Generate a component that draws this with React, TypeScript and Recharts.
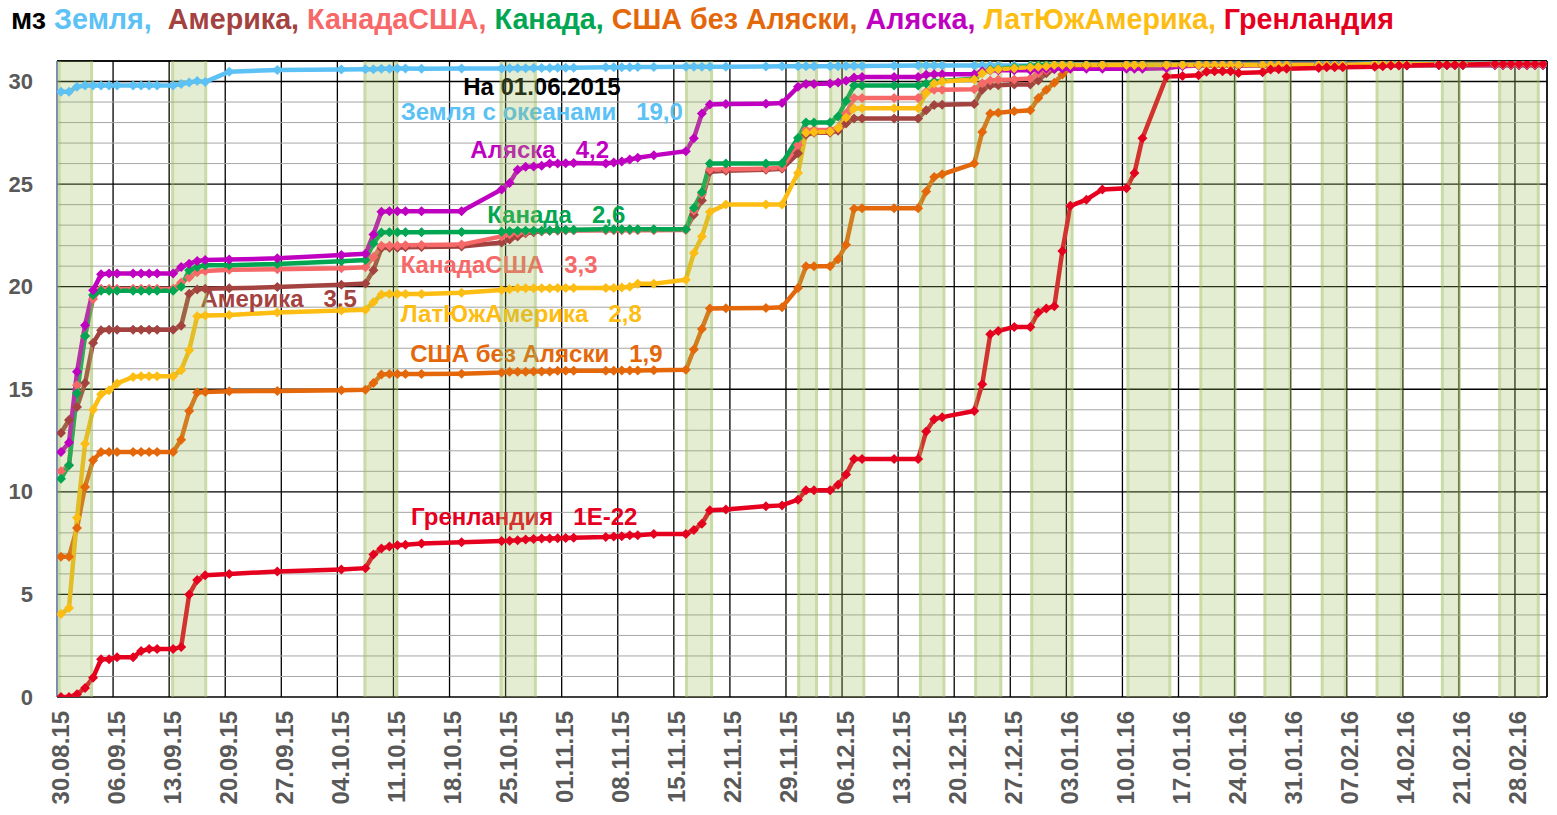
import React from "react";
import {
  LineChart,
  Line,
  XAxis,
  YAxis,
  CartesianGrid,
  ReferenceArea,
  ReferenceLine,
  ReferenceDot,
} from "recharts";

// day 0 = 30.08.2015
const START = Date.UTC(2015, 7, 30);

const days = [
  0, 1, 2, 3, 4, 5, 6, 7, 9, 10, 11, 12, 14, 15, 16, 17, 18, 21, 27,
  35, 38, 39, 40, 41, 42, 43, 45, 50,
  55, 56, 57, 58, 59, 60, 61, 62, 63, 64,
  68, 69, 70, 71, 72, 74,
  78, 79, 80, 81, 83, 88, 90,
  92, 93, 94, 96, 97, 98, 99, 100, 104,
  107, 108, 109, 110, 114, 115, 116, 117, 119,
  121, 122, 123, 124, 125, 126, 128, 130,
  133, 134, 135, 138, 140,
  142, 143, 144, 145, 146, 147,
  150, 151, 152, 153,
  157, 158, 159, 160,
  164, 165, 166, 167, 168,
  172, 173, 174, 175,
  179, 180, 181, 182, 183, 184, 185,
];

const zemlya = [
  29.5, 29.5, 29.75, 29.8, 29.8, 29.8, 29.8, 29.8, 29.8, 29.8, 29.8, 29.8, 29.8, 29.88, 29.95, 30.02, 29.98, 30.48, 30.56,
  30.58, 30.6, 30.6, 30.62, 30.62, 30.63, 30.63, 30.62, 30.63,
  30.64, 30.65, 30.65, 30.65, 30.66, 30.66, 30.66, 30.67, 30.67, 30.67,
  30.7, 30.7, 30.7, 30.7, 30.71, 30.71,
  30.72, 30.72, 30.72, 30.72, 30.72, 30.73, 30.74,
  30.74, 30.75, 30.75, 30.75, 30.75, 30.76, 30.76, 30.76, 30.77,
  30.78, 30.78, 30.78, 30.78, 30.78, 30.78, 30.78, 30.78, 30.78,
  30.78, 30.79, 30.8, 30.82, 30.83, 30.83, 30.83, 30.84,
  30.84, 30.84, 30.84, 30.84, 30.84,
  30.85, 30.85, 30.85, 30.85, 30.85, 30.85,
  30.86, 30.86, 30.86, 30.86,
  30.87, 30.87, 30.87, 30.87,
  30.88, 30.88, 30.88, 30.88, 30.88,
  30.88, 30.88, 30.88, 30.88,
  30.89, 30.89, 30.89, 30.89, 30.89, 30.89, 30.89,
];

const amerika = [
  12.87, 13.5, 14.14, 15.3, 17.25, 17.88, 17.9, 17.9, 17.9, 17.9, 17.9, 17.9, 17.9, 18.1, 19.66, 19.86, 19.9, 19.92, 19.98,
  20.1, 20.15, 20.8, 21.88, 21.9, 21.9, 21.92, 21.93, 21.96,
  22.15, 22.3, 22.45, 22.6, 22.65, 22.7, 22.72, 22.74, 22.75, 22.75,
  22.76, 22.76, 22.77, 22.77, 22.78, 22.78,
  22.8, 23.5, 24.2, 25.6, 25.65, 25.7, 25.75,
  26.5, 27.4, 27.5, 27.5, 27.6, 27.95, 28.2, 28.2, 28.2,
  28.2, 28.6, 28.85, 28.87, 28.9, 29.6, 29.8, 29.82, 29.85,
  29.85, 30.05, 30.4, 30.6, 30.7, 30.75, 30.8, 30.8,
  30.8, 30.8, 30.8, 30.8, 30.8,
  30.8, 30.8, 30.8, 30.8, 30.8, 30.8,
  30.8, 30.8, 30.8, 30.8,
  30.8, 30.8, 30.8, 30.8,
  30.8, 30.8, 30.8, 30.8, 30.8,
  30.8, 30.8, 30.8, 30.8,
  30.8, 30.8, 30.8, 30.8, 30.8, 30.8, 30.8,
];

const kanadaSsha = [
  11.0, 11.3, 15.2, 17.6, 19.4, 19.9, 19.9, 19.9, 19.9, 19.9, 19.9, 19.9, 19.9, 20.2, 20.45, 20.7, 20.77, 20.82, 20.85,
  20.9, 20.95, 21.45, 22.0, 22.0, 22.0, 22.02, 22.03, 22.05,
  22.45, 22.55, 22.6, 22.65, 22.7, 22.7, 22.72, 22.74, 22.75, 22.75,
  22.75, 22.75, 22.75, 22.75, 22.75, 22.75,
  22.76, 23.7, 24.5, 25.7, 25.72, 25.75, 25.8,
  26.9, 27.64, 27.64, 27.64, 27.74, 28.44, 29.2, 29.2, 29.2,
  29.2, 29.5, 29.6, 29.6, 29.62, 29.92, 30.05, 30.08, 30.1,
  30.15, 30.4, 30.55, 30.7, 30.8, 30.8, 30.8, 30.8,
  30.8, 30.8, 30.8, 30.8, 30.8,
  30.8, 30.8, 30.8, 30.8, 30.8, 30.8,
  30.8, 30.8, 30.8, 30.8,
  30.8, 30.8, 30.8, 30.8,
  30.8, 30.8, 30.8, 30.8, 30.8,
  30.8, 30.8, 30.8, 30.8,
  30.8, 30.8, 30.8, 30.8, 30.8, 30.8, 30.8,
];

const kanada = [
  10.64, 11.3, 14.8, 17.6, 19.6, 19.8, 19.8, 19.8, 19.8, 19.8, 19.8, 19.8, 19.8, 20.0, 20.8, 20.96, 21.05, 21.05, 21.1,
  21.24, 21.3, 22.1, 22.64, 22.65, 22.65, 22.65, 22.65, 22.66,
  22.68, 22.7, 22.72, 22.72, 22.72, 22.72, 22.74, 22.76, 22.78, 22.78,
  22.8, 22.8, 22.8, 22.8, 22.8, 22.8,
  22.8, 23.84, 24.6, 26.0, 26.0, 26.0, 26.02,
  27.25, 28.0, 28.0, 28.0, 28.3, 29.05, 29.8, 29.8, 29.8,
  29.8, 29.9, 30.0, 30.02, 30.14, 30.45, 30.58, 30.62, 30.7,
  30.75, 30.8, 30.8, 30.8, 30.8, 30.8, 30.8, 30.8,
  30.8, 30.8, 30.8, 30.8, 30.8,
  30.8, 30.8, 30.8, 30.8, 30.8, 30.8,
  30.8, 30.8, 30.8, 30.8,
  30.8, 30.8, 30.8, 30.8,
  30.8, 30.8, 30.8, 30.8, 30.8,
  30.8, 30.8, 30.8, 30.8,
  30.8, 30.8, 30.8, 30.8, 30.8, 30.8, 30.8,
];

const sshaBezAlyaski = [
  6.84, 6.84, 8.24, 10.24, 11.54, 11.94, 11.94, 11.94, 11.94, 11.94, 11.94, 11.94, 11.94, 12.54, 13.94, 14.84, 14.87, 14.9, 14.92,
  14.95, 14.97, 15.3, 15.72, 15.74, 15.74, 15.74, 15.74, 15.76,
  15.82, 15.85, 15.85, 15.85, 15.86, 15.86, 15.87, 15.9, 15.9, 15.9,
  15.9, 15.9, 15.91, 15.92, 15.92, 15.93,
  15.95, 16.94, 17.94, 18.94, 18.95, 18.96, 19.0,
  19.94, 21.0, 21.0, 21.0, 21.34, 22.04, 23.8, 23.82, 23.82,
  23.82, 24.64, 25.34, 25.48, 26.0, 27.54, 28.44, 28.48, 28.55,
  28.6, 29.2, 29.6, 29.94, 30.34, 30.64, 30.75, 30.8,
  30.8, 30.8, 30.8, 30.8, 30.8,
  30.8, 30.8, 30.8, 30.8, 30.8, 30.8,
  30.8, 30.8, 30.8, 30.8,
  30.8, 30.8, 30.8, 30.8,
  30.8, 30.8, 30.8, 30.8, 30.8,
  30.8, 30.8, 30.8, 30.8,
  30.8, 30.8, 30.8, 30.8, 30.8, 30.8, 30.8,
];

const alyaska = [
  11.94, 12.4, 15.85, 18.12, 19.82, 20.6, 20.64, 20.64, 20.64, 20.64, 20.64, 20.64, 20.64, 20.96, 21.12, 21.25, 21.3, 21.32, 21.38,
  21.54, 21.6, 22.54, 23.65, 23.68, 23.68, 23.68, 23.68, 23.68,
  24.74, 25.05, 25.7, 25.84, 25.86, 25.9, 26.0, 26.0, 26.02, 26.03,
  26.0, 26.05, 26.1, 26.2, 26.28, 26.4,
  26.6, 27.24, 28.44, 28.88, 28.9, 28.92, 28.95,
  29.74, 29.88, 29.88, 29.9, 29.95, 30.04, 30.2, 30.22, 30.22,
  30.22, 30.33, 30.35, 30.35, 30.35, 30.5, 30.54, 30.55, 30.55,
  30.55, 30.58, 30.62, 30.62, 30.62, 30.62, 30.62, 30.62,
  30.62, 30.62, 30.62, 30.65, 30.75,
  30.78, 30.8, 30.8, 30.8, 30.8, 30.78,
  30.8, 30.8, 30.8, 30.8,
  30.8, 30.8, 30.8, 30.8,
  30.8, 30.8, 30.8, 30.8, 30.8,
  30.8, 30.8, 30.8, 30.8,
  30.8, 30.8, 30.8, 30.8, 30.8, 30.8, 30.8,
];

const latYuzhAmerika = [
  4.04, 4.34, 8.74, 12.34, 14.0, 14.76, 14.95, 15.28, 15.6, 15.64, 15.64, 15.64, 15.64, 15.93, 16.9, 18.56, 18.6, 18.62, 18.74,
  18.84, 18.88, 19.24, 19.62, 19.64, 19.64, 19.64, 19.64, 19.7,
  19.84, 19.88, 19.92, 19.92, 19.92, 19.92, 19.92, 19.94, 19.94, 19.94,
  19.94, 19.94, 19.96, 20.0, 20.14, 20.14,
  20.34, 21.64, 22.44, 23.64, 24.0, 24.0, 24.0,
  25.54, 27.5, 27.54, 27.55, 27.74, 28.24, 28.68, 28.7, 28.7,
  28.7, 29.44, 29.9, 30.0, 30.1, 30.4, 30.55, 30.6, 30.65,
  30.7, 30.72, 30.75, 30.8, 30.8, 30.8, 30.8, 30.8,
  30.8, 30.8, 30.8, 30.8, 30.8,
  30.8, 30.8, 30.8, 30.8, 30.8, 30.8,
  30.8, 30.8, 30.8, 30.8,
  30.8, 30.8, 30.8, 30.8,
  30.85, 30.85, 30.85, 30.85, 30.85,
  30.85, 30.85, 30.85, 30.85,
  30.85, 30.85, 30.85, 30.85, 30.85, 30.85, 30.85,
];

const grenlandiya = [
  0, 0, 0.14, 0.44, 0.94, 1.84, 1.84, 1.94, 1.94, 2.24, 2.34, 2.34, 2.34, 2.44, 5.0, 5.7, 5.94, 6.0, 6.12,
  6.22, 6.28, 6.94, 7.24, 7.34, 7.4, 7.42, 7.48, 7.54,
  7.6, 7.62, 7.64, 7.68, 7.7, 7.72, 7.72, 7.74, 7.75, 7.76,
  7.8, 7.82, 7.84, 7.88, 7.89, 7.94,
  7.95, 8.14, 8.44, 9.1, 9.14, 9.3, 9.34,
  9.62, 10.08, 10.08, 10.08, 10.34, 10.84, 11.6, 11.6, 11.6,
  11.6, 12.94, 13.54, 13.64, 13.94, 15.24, 17.68, 17.84, 18.04,
  18.04, 18.74, 18.94, 19.04, 21.74, 23.94, 24.24, 24.74,
  24.8, 25.54, 27.24, 30.24, 30.27,
  30.3, 30.48, 30.5, 30.5, 30.5, 30.42,
  30.45, 30.58, 30.6, 30.62,
  30.66, 30.7, 30.7, 30.7,
  30.72, 30.75, 30.78, 30.78, 30.78,
  30.82, 30.82, 30.82, 30.82,
  30.86, 30.86, 30.86, 30.86, 30.86, 30.86, 30.86,
];

// shaded periods, in days from 30.08.15
const bandFrom = [0.1, 14.25, 38.25, 55.25, 78.4, 92.4, 96.4, 107.6, 114.5, 121.5, 133.5, 142.6, 150.6, 157.75, 164.6, 172.75, 179.9];
const bandTo = [4.5, 18.75, 42.6, 59.9, 81.9, 95, 100.9, 110.9, 118, 126.9, 139.1, 147.25, 154.1, 161, 168, 175.25, 185.1];

const xTicks = [0, 7, 14, 21, 28, 35, 42, 49, 56, 63, 70, 77, 84, 91, 98, 105, 112, 119, 126, 133, 140, 147, 154, 161, 168, 175, 182];
const yTicks = [0, 5, 10, 15, 20, 25, 30];
const yMinor = [1, 2, 3, 4, 6, 7, 8, 9, 11, 12, 13, 14, 16, 17, 18, 19, 21, 22, 23, 24, 26, 27, 28, 29];

const series = [
  { key: "zemlya", name: "Земля", color: "#5cc1f5", values: zemlya },
  { key: "amerika", name: "Америка", color: "#a3423f", values: amerika },
  { key: "kanadaSsha", name: "КанадаСША", color: "#f76868", values: kanadaSsha },
  { key: "kanada", name: "Канада", color: "#00a651", values: kanada },
  { key: "ssha", name: "США без Аляски", color: "#e4670a", values: sshaBezAlyaski },
  { key: "alyaska", name: "Аляска", color: "#c000c0", values: alyaska },
  { key: "latam", name: "ЛатЮжАмерика", color: "#fdbd12", values: latYuzhAmerika },
  { key: "grenl", name: "Гренландия", color: "#e6001f", values: grenlandiya },
];

// annotation texts: [text, colour, day, value]
const notes: [string, string, number, number][] = [
  ["На 01.06.2015", "#000000", 50.7, 29.78],
  ["Земля с океанами\u00a0\u00a0\u00a019,0", "#5cc1f5", 42.9, 28.52],
  ["Аляска\u00a0\u00a0\u00a04,2", "#c000c0", 51.6, 26.7],
  ["Канада\u00a0\u00a0\u00a02,6", "#00a651", 53.7, 23.53],
  ["КанадаСША\u00a0\u00a0\u00a03,3", "#f76868", 42.9, 21.1],
  ["Америка\u00a0\u00a0\u00a03,5", "#a3423f", 17.9, 19.4],
  ["ЛатЮжАмерика\u00a0\u00a0\u00a02,8", "#fdbd12", 42.9, 18.7],
  ["США без Аляски\u00a0\u00a0\u00a01,9", "#e4670a", 44.1, 16.72],
  ["Гренландия\u00a0\u00a0\u00a01E-22", "#e6001f", 44.2, 8.82],
];

const data = days.map((d, i) => {
  const row: Record<string, number> = { x: d + 0.5 };
  series.forEach((s) => {
    row[s.key] = s.values[i];
  });
  return row;
});

const FONT = "Arial, 'Liberation Sans', sans-serif";

function fmtDate(v: number) {
  const dt = new Date(START + v * 86400000);
  const dd = String(dt.getUTCDate()).padStart(2, "0");
  const mm = String(dt.getUTCMonth() + 1).padStart(2, "0");
  const yy = String(dt.getUTCFullYear()).slice(2);
  return `${dd}.${mm}.${yy}`;
}

const XTick = (props: any) => {
  const { x, y, payload } = props;
  return (
    <text
      transform={`translate(${x + 3},${y + 14}) rotate(-90)`}
      textAnchor="end"
      dominantBaseline="central"
      fill="#595959"
      fontSize={24}
      fontWeight="bold"
      fontFamily={FONT}
    >
      {fmtDate(payload.value)}
    </text>
  );
};

const YTick = (props: any) => {
  const { x, y, payload } = props;
  return (
    <text x={x - 24} y={y} textAnchor="end" dominantBaseline="central" fill="#595959" fontSize={22} fontWeight="bold" fontFamily={FONT}>
      {payload.value}
    </text>
  );
};

const makeDiamond = (color: string) => (props: any) => {
  const { cx, cy, index } = props;
  if (cx == null || cy == null) return <g key={index} />;
  const r = 5;
  return <path key={index} d={`M${cx},${cy - r}L${cx + r},${cy}L${cx},${cy + r}L${cx - r},${cy}Z`} fill={color} />;
};

const Band = (props: any) => {
  const { x, y, width, height } = props;
  return (
    <g>
      <rect x={x} y={y} width={width} height={height} fill="#9bbb59" fillOpacity={0.27} />
      <rect x={x} y={y} width={3} height={height} fill="#9bbb59" fillOpacity={0.35} />
      <rect x={x + width - 3} y={y} width={3} height={height} fill="#9bbb59" fillOpacity={0.35} />
    </g>
  );
};

const makeNote = (text: string, color: string) => (props: any) => {
  const { cx, cy } = props;
  return (
    <text x={cx} y={cy} fill={color} fontSize={24} fontWeight="bold" fontFamily={FONT} dominantBaseline="central">
      {text}
    </text>
  );
};

export default function App() {
  return (
    <div style={{ position: "relative", width: 1557, height: 815, background: "#fff", fontFamily: FONT }}>
      <style>{`body{margin:0;background:#fff}`}</style>
      <div
        style={{
          position: "absolute",
          left: 11,
          top: 3,
          fontSize: 28.7,
          fontWeight: "bold",
          whiteSpace: "pre",
          zIndex: 2,
        }}
      >
        <span style={{ color: "#000" }}>мз </span>
        {series.map((s, i) => (
          <span key={s.key} style={{ color: s.color }}>
            {s.name}
            {i < series.length - 1 ? (i === 0 ? ",  " : ", ") : ""}
          </span>
        ))}
      </div>
      <LineChart width={1557} height={815} data={data} margin={{ top: 61, right: 10, bottom: 8, left: 12 }}>
        <CartesianGrid stroke="#000" strokeWidth={1.3} />
        {yMinor.map((v) => (
          <ReferenceLine key={`m${v}`} y={v} stroke="#a6a6a6" strokeWidth={1} zIndex={-50} />
        ))}
        <ReferenceLine y={31} stroke="#000" strokeWidth={1.3} zIndex={-50} />
        <ReferenceLine x={186} stroke="#000" strokeWidth={1.3} zIndex={-50} />
        <XAxis
          dataKey="x"
          type="number"
          domain={[0, 186]}
          ticks={xTicks}
          interval={0}
          allowDataOverflow
          axisLine={false}
          tickLine={false}
          tickSize={0}
          tickMargin={0}
          height={110}
          tick={<XTick />}
        />
        <YAxis
          type="number"
          domain={[0, 31]}
          ticks={yTicks}
          interval={0}
          allowDataOverflow
          width={45}
          axisLine={{ stroke: "#8ea9db", strokeWidth: 1.3 }}
          tickLine={false}
          tickSize={0}
          tickMargin={0}
          tick={<YTick />}
        />
        {series.map((s) => (
          <Line
            key={s.key}
            type="linear"
            dataKey={s.key}
            stroke={s.color}
            strokeWidth={4.5}
            dot={makeDiamond(s.color)}
            activeDot={false}
            isAnimationActive={false}
          />
        ))}
        {notes.map(([t, c, dx, vy]) => (
          <ReferenceDot key={t} x={dx} y={vy} r={1} shape={makeNote(t, c)} zIndex={420} />
        ))}
        {bandFrom.map((b, i) => (
          <ReferenceArea key={`b${i}`} x1={b} x2={bandTo[i]} y1={0} y2={31} shape={<Band />} zIndex={450} />
        ))}
      </LineChart>
    </div>
  );
}
